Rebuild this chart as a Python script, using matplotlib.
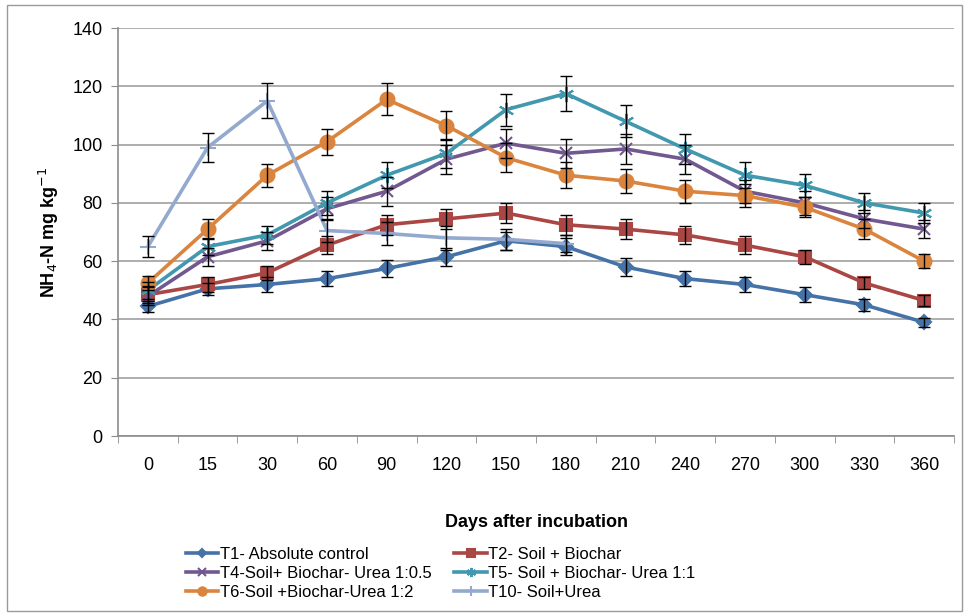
import numpy as np
import matplotlib
matplotlib.use('Agg')
import matplotlib.pyplot as plt
from matplotlib.patches import Rectangle

# === Données ===
days = ['0', '15', '30', '60', '90', '120', '150', '180', '210', '240', '270', '300', '330', '360']

t1 = [44.5, 50.5, 52, 54, 57.5, 61.5, 67, 65, 58, 54, 52, 48.5, 45, 39]
t2 = [48.5, 52, 56, 65.5, 72.5, 74.5, 76.5, 72.5, 71, 69, 65.5, 61.5, 52.5, 46.5]
t4 = [48, 61.5, 67, 78, 84, 95, 100.5, 97, 98.5, 95, 84, 80, 74.5, 71]
t5 = [50, 65, 69, 80, 89.5, 97, 112, 117.5, 108, 98.5, 89.5, 86, 80, 76.5]
t6 = [52.5, 71, 89.5, 101, 115.5, 106.5, 95.5, 89.5, 87.5, 84, 82.5, 78.5, 71, 60]
t10 = [65, 99, 115, 70.5, 69.5, 68, 67.5, 66]

e1 = [2, 2, 2.5, 2.5, 3, 3, 3, 3, 3, 2.5, 2.5, 2.5, 2, 1.5]
e2 = [3, 2.5, 2.5, 3, 3.5, 3.5, 3.5, 3.5, 3.5, 3, 3, 2.5, 2, 2]
e4 = [3, 3, 3, 4, 5, 5, 5, 5, 5, 5, 4, 4, 3, 3]
e5 = [3, 3, 3, 4, 4.5, 5, 5.5, 6, 5.5, 5, 4.5, 4, 3.5, 3.5]
e6 = [2.5, 3.5, 4, 4.5, 5.5, 5, 5, 4.5, 4, 4, 4, 3.5, 3.5, 2.5]
e10 = [3.5, 5, 6, 4, 4, 4, 3.5, 3]

labels = ['T1- Absolute control', 'T2- Soil + Biochar', 'T4-Soil+ Biochar- Urea 1:0.5',
          'T5- Soil + Biochar- Urea 1:1', 'T6-Soil +Biochar-Urea 1:2', 'T10- Soil+Urea']

plt.rcParams['font.family'] = ['Liberation Sans', 'DejaVu Sans']

fig = plt.figure(figsize=(9.65, 6.13), dpi=100)
ax = fig.add_axes([0.1223, 0.2887, 0.8663, 0.6656])
fig.patches.append(Rectangle((0.007, 0.004), 0.99, 0.988, transform=fig.transFigure,
                             fill=False, edgecolor='#9a9a9a', linewidth=1))

x = np.arange(len(days))
series = [
    (t1, e1, '#4572A7', 'D', 7),
    (t2, e2, '#AA4643', 's', 9),
    (t4, e4, '#71588F', 'x', 9),
    (t5, e5, '#4198AF', (6, 2, 0), 11),
    (t6, e6, '#DB843D', 'o', 10),
    (t10, e10, '#93A9CF', '+', 12),
]
handles = []
for (vals, err, col, mk, ms), lab in zip(series, labels):
    xx = x[:len(vals)]
    ax.errorbar(xx, vals, yerr=err, fmt='none', ecolor='black', elinewidth=1,
                capsize=4, capthick=1, zorder=3)
    h, = ax.plot(xx, vals, color=col, lw=2.6, marker=mk, ms=ms, mew=1.5,
                 mec=col, mfc=col, label=lab, zorder=2)
    handles.append(h)

ax.set_xlim(-0.5, len(days) - 0.5)
ax.set_ylim(0, 140)
ax.set_yticks(range(0, 141, 20))
ax.set_xticks(x)
ax.set_xticklabels(days)
ax.set_xticks(np.arange(-0.5, len(days), 1), minor=True)
ax.tick_params(axis='x', which='major', length=0, pad=15, labelsize=13)
ax.tick_params(axis='x', which='minor', length=5, color='#8c8c8c', direction='out')
ax.tick_params(axis='y', length=5, color='#8c8c8c', labelsize=13, pad=6)
ax.grid(axis='y', color='#a0a0a0', lw=1.2)
ax.set_axisbelow(True)
for s in ['top', 'right']:
    ax.spines[s].set_visible(False)
for s in ['left', 'bottom']:
    ax.spines[s].set_color('#8c8c8c')
    ax.spines[s].set_linewidth(1.2)

ax.set_xlabel('Days after incubation', fontweight='bold', fontsize=13, labelpad=29)
ax.set_ylabel('NH$_4$-N mg kg$^{-1}$', fontweight='bold', fontsize=13, labelpad=8)

order = [0, 2, 4, 1, 3, 5]
fig.legend([handles[i] for i in order], [labels[i] for i in order], ncol=2,
           loc='upper left', bbox_to_anchor=(0.184, 0.122), frameon=False,
           fontsize=12, handlelength=1.95, handletextpad=0.1, columnspacing=1.35,
           labelspacing=0.25, borderpad=0, markerscale=0.6)

plt.savefig('out.png', dpi=100)
